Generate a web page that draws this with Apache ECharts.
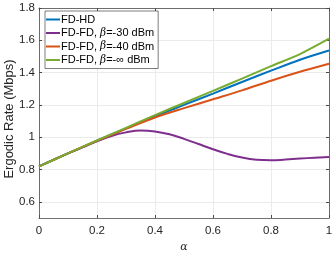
<!DOCTYPE html>
<html><head><meta charset="utf-8">
<script src="https://cdn.jsdelivr.net/npm/echarts@6/dist/echarts.min.js"></script>
<style>html,body{margin:0;padding:0;background:#fff}#c{width:332px;height:253px}</style>
</head><body><div id="c"></div>
<script>
const seriesNames = ['FD-HD', 'FD-FD, β=-30 dBm', 'FD-FD, β=-40 dBm', 'FD-FD, β=-∞ dBm'];
const legendRich = ['{n|FD-HD}', '{n|FD-FD, }{b|β}{n|=-30 dBm}', '{n|FD-FD, }{b|β}{n|=-40 dBm}', '{n|FD-FD, }{b|β}{n|=-∞ dBm}'];
const alphaCoarse = [0, 0.1, 0.2, 0.3, 0.4, 0.5, 0.6, 0.7, 0.8, 0.9, 1.0];
const fdHD =     [0.82, 0.90, 0.978, 1.055, 1.13, 1.20, 1.27, 1.342, 1.412, 1.48, 1.537];
const fdFD40 =   [0.82, 0.90, 0.978, 1.052, 1.122, 1.18, 1.235, 1.29, 1.35, 1.405, 1.455];
const fdFDinf =  [0.82, 0.90, 0.98, 1.058, 1.137, 1.212, 1.287, 1.363, 1.44, 1.515, 1.61];
const alphaFine = [0, 0.05, 0.1, 0.15, 0.2, 0.25, 0.3, 0.35, 0.4, 0.45, 0.5, 0.55, 0.6, 0.65, 0.7, 0.75, 0.8, 0.85, 0.9, 0.95, 1.0];
const fdFD30 = [0.82, 0.86, 0.90, 0.937, 0.975, 1.008, 1.03, 1.042, 1.036, 1.018, 0.99, 0.958, 0.926, 0.897, 0.874, 0.86, 0.857, 0.862, 0.868, 0.873, 0.877];
const xTicks = [0, 0.2, 0.4, 0.6, 0.8, 1];
const yTicks = [0.6, 0.8, 1.0, 1.2, 1.4, 1.6, 1.8];
const colors = ['#0072BD', '#7E2F8E', '#D95319', '#77AC30'];

const zip = (xs, ys) => xs.map((x, i) => [x, ys[i]]);
const font = 'Liberation Sans, Arial, sans-serif';
const axisCol = '#4d4d4d';
const chart = echarts.init(document.getElementById('c'), null, {renderer: 'canvas'});
const fmtY = v => (Math.abs(v - 1) < 1e-9 ? '1' : v.toFixed(1));
const fmtX = v => (v === 0 ? '0' : v === 1 ? '1' : String(+v.toFixed(1)));
chart.setOption({
  animation: false,
  color: colors,
  grid: {left: 39, right: 3, top: 8, bottom: 35, containLabel: false, outerBoundsMode: 'none'},
  legend: {
    left: 45, top: 11, orient: 'vertical', icon: 'rect', itemWidth: 14, itemHeight: 2,
    itemGap: 2.5, padding: [3, 4, 3, 1],
    borderColor: '#262626', borderWidth: 0.6, backgroundColor: '#fff',
    formatter: name => legendRich[seriesNames.indexOf(name)],
    textStyle: {
      fontFamily: font, fontSize: 11, color: '#000', padding: [0, 0, 0, -4],
      rich: {n: {fontFamily: font, fontSize: 11, color: '#000'},
             b: {fontFamily: 'DejaVu Serif, serif', fontStyle: 'italic', fontSize: 10.5, color: '#000'}}
    },
    data: seriesNames
  },
  xAxis: [{
    type: 'value', min: 0, max: 1, position: 'bottom',
    name: 'α', nameLocation: 'middle', nameGap: 24, nameMoveOverlap: false,
    nameTextStyle: {fontFamily: 'DejaVu Serif, serif', fontStyle: 'italic', fontSize: 11, color: '#262626'},
    axisLine: {show: true, lineStyle: {color: axisCol, width: 0.8}},
    axisTick: {show: true, inside: true, length: 3, customValues: xTicks, lineStyle: {color: axisCol}},
    axisLabel: {customValues: xTicks, formatter: fmtX, fontFamily: font, fontSize: 11.5, color: '#262626', margin: 7},
    splitLine: {show: true, lineStyle: {color: '#ebebeb', width: 1}}
  }, {
    type: 'value', min: 0, max: 1, position: 'top',
    axisLine: {show: true, onZero: false, lineStyle: {color: axisCol, width: 0.8}},
    axisTick: {show: true, inside: true, length: 3, customValues: xTicks, lineStyle: {color: axisCol}},
    axisLabel: {show: false}, splitLine: {show: false}
  }],
  yAxis: [{
    type: 'value', min: 0.5, max: 1.8, position: 'left',
    name: 'Ergodic Rate (Mbps)', nameLocation: 'middle', nameGap: 23, nameMoveOverlap: false,
    nameTextStyle: {fontFamily: font, fontSize: 13, color: '#262626', padding: [0, 12, 0, 0]},
    axisLine: {show: true, lineStyle: {color: axisCol, width: 0.8}},
    axisTick: {show: true, inside: true, length: 3, customValues: yTicks, lineStyle: {color: axisCol}},
    axisLabel: {customValues: yTicks, formatter: fmtY, fontFamily: font, fontSize: 11.5, color: '#262626', margin: 4},
    splitLine: {show: true, lineStyle: {color: '#ebebeb', width: 1}}
  }, {
    type: 'value', min: 0.5, max: 1.8, position: 'right',
    axisLine: {show: true, onZero: false, lineStyle: {color: axisCol, width: 0.8}},
    axisTick: {show: true, inside: true, length: 3, customValues: yTicks, lineStyle: {color: axisCol}},
    axisLabel: {show: false}, splitLine: {show: false}
  }],
  series: [
    {name: seriesNames[0], type: 'line', data: zip(alphaCoarse, fdHD), smooth: 0.3, symbol: 'none', lineStyle: {width: 2}},
    {name: seriesNames[1], type: 'line', data: zip(alphaFine, fdFD30), smooth: 0.4, symbol: 'none', lineStyle: {width: 2}},
    {name: seriesNames[2], type: 'line', data: zip(alphaCoarse, fdFD40), smooth: 0.3, symbol: 'none', lineStyle: {width: 2}},
    {name: seriesNames[3], type: 'line', data: zip(alphaCoarse, fdFDinf), smooth: 0.3, symbol: 'none', lineStyle: {width: 2}}
  ]
});
</script></body></html>
